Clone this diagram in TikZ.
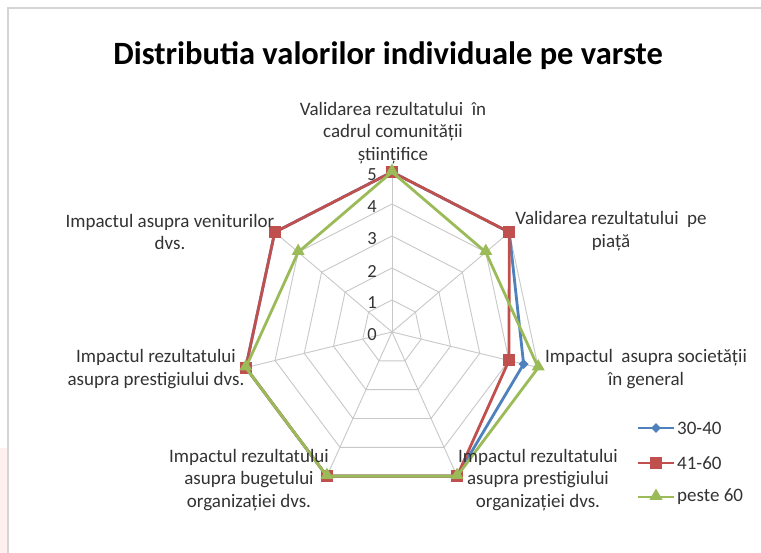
\documentclass[tikz,border=0pt]{standalone}
\usepackage{fontspec}
\setmainfont{Carlito}
\usetikzlibrary{shapes.geometric}
\definecolor{serblue}{HTML}{4F81BD}
\definecolor{serred}{HTML}{C0504D}
\definecolor{sergreen}{HTML}{9BBB59}
\definecolor{gridgray}{HTML}{C8C8C8}
\definecolor{framegray}{HTML}{D4D4D4}
\definecolor{txtgray}{HTML}{333333}
\tikzset{
  gridline/.style={draw=gridgray, line width=0.9pt},
  serline/.style={line width=2.8pt, line join=round},
  axislabel/.style={align=center, font=\fontsize{19}{22.5}\selectfont, text=txtgray, inner sep=0pt},
  ticklabel/.style={font=\fontsize{18.5}{20}\selectfont, text=txtgray, inner sep=0pt, anchor=east},
  legendtext/.style={font=\fontsize{19}{20}\selectfont, text=txtgray, inner sep=0pt, anchor=west},
  dmark/.style={diamond, fill=serblue, minimum size=10pt, inner sep=0pt},
  smark/.style={rectangle, fill=serred, minimum size=12pt, inner sep=0pt},
  tmark/.style={regular polygon, regular polygon sides=3, fill=sergreen, minimum size=15pt, inner sep=0pt},
}
\begin{document}
\begin{tikzpicture}[x=1pt,y=-1pt]
  \useasboundingbox (0,0) rectangle (761,553);
  \fill[white] (0,0) rectangle (761,553);
  \fill[red!6] (0,448) rectangle (7,553);
  \draw[framegray, line width=1.5pt] (8,553) -- (8,8) -- (761,8);

  \node[font=\fontsize{32.5}{34}\selectfont\bfseries, inner sep=0pt] (title) at (388,56) {Distributia valorilor individuale pe varste};

  \coordinate (ctr) at (392,332);
  \begin{scope}[shift={(ctr)}, x=30pt, y=32pt]
    \foreach \r in {1,...,5} {
      \draw[gridline] (90:\r) \foreach \k in {1,...,6} { -- ({90-\k*360/7}:\r) } -- cycle;
    }
    \foreach \k in {0,...,6} {
      \draw[gridline] (0,0) -- ({90-\k*360/7}:5);
    }
    \foreach \r in {0,...,5} {
      \node[ticklabel] (tick\r) at ([xshift=-15pt, yshift=-3pt]0,\r) {\r};
    }

    \foreach \v [count=\k from 0] in {5,5,4.5,5,5,5,5} {
      \coordinate (b\k) at ({90-\k*360/7}:\v);
    }
    \foreach \v [count=\k from 0] in {5,5,4,5,5,5,5} {
      \coordinate (r\k) at ({90-\k*360/7}:\v);
    }
    \foreach \v [count=\k from 0] in {5,4,5,5,5,5,4} {
      \coordinate (g\k) at ({90-\k*360/7}:\v);
    }

    \draw[serline, serblue] (b0) -- (b1) -- (b2) -- (b3) -- (b4) -- (b5) -- (b6) -- cycle;
    \foreach \k in {0,...,6} {
      \node[dmark] (mb\k) at (b\k) {};
    }
    \draw[serline, serred] (r0) -- (r1) -- (r2) -- (r3) -- (r4) -- (r5) -- (r6) -- cycle;
    \foreach \k in {0,...,6} {
      \node[smark] (mr\k) at (r\k) {};
    }
    \draw[serline, sergreen] (g0) -- (g1) -- (g2) -- (g3) -- (g4) -- (g5) -- (g6) -- cycle;
    \foreach \k in {0,...,6} {
      \node[tmark] (mg\k) at ([yshift=1pt]g\k) {};
    }
  \end{scope}

  \node[axislabel] (ax0) at (393,133) {Validarea rezultatului\ \ în\\cadrul comunității\\științifice};
  \node[axislabel] (ax1) at (611,231) {Validarea rezultatului\ \ pe\\piață};
  \node[axislabel] (ax2) at (646,369) {Impactul\ \ asupra societății\\în general};
  \node[axislabel] (ax3) at (538,480) {Impactul rezultatului\\asupra prestigiului\\organizației dvs.};
  \node[axislabel] (ax4) at (249,480) {Impactul rezultatului\\asupra bugetului\\organizației dvs.};
  \node[axislabel] (ax5) at (156,369) {Impactul rezultatului\\asupra prestigiului dvs.};
  \node[axislabel] (ax6) at (170,232) {Impactul asupra veniturilor\\dvs.};

  \coordinate (lgA) at (638,428);
  \coordinate (lgB) at (638,463);
  \coordinate (lgC) at (638,497);
  \draw[serblue, line width=2.8pt] (lgA) -- ++(36,0) coordinate (lgAe);
  \node[dmark] (lgAm) at ([xshift=18pt]lgA) {};
  \node[legendtext] (lgAt) at ([xshift=3pt]lgAe) {30-40};
  \draw[serred, line width=2.8pt] (lgB) -- ++(36,0) coordinate (lgBe);
  \node[smark] (lgBm) at ([xshift=18pt]lgB) {};
  \node[legendtext] (lgBt) at ([xshift=3pt]lgBe) {41-60};
  \draw[sergreen, line width=2.8pt] (lgC) -- ++(36,0) coordinate (lgCe);
  \node[tmark] (lgCm) at ([xshift=18pt, yshift=1pt]lgC) {};
  \node[legendtext] (lgCt) at ([xshift=3pt]lgCe) {peste 60};
\end{tikzpicture}
\end{document}
